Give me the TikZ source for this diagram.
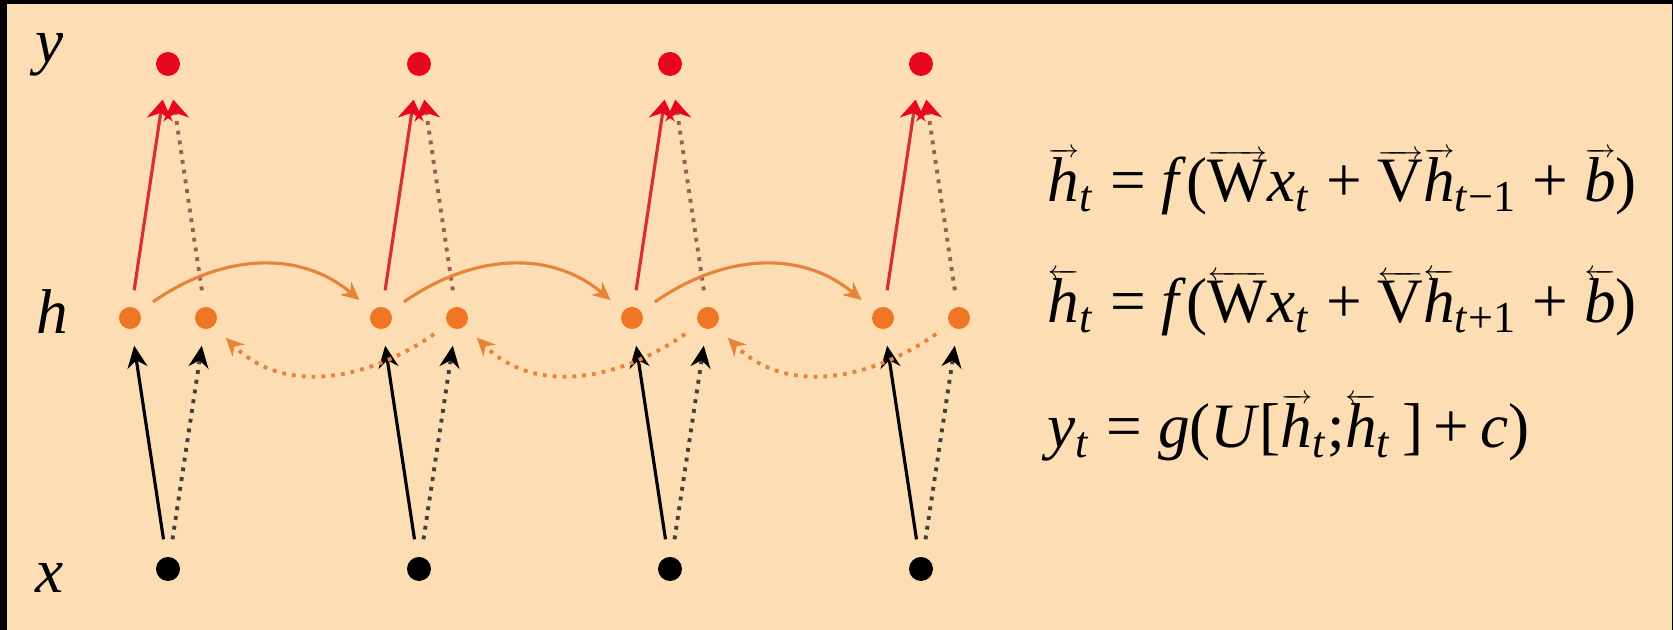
\documentclass[tikz,border=0pt]{standalone}
\usepackage{fontspec}
\setmainfont{Liberation Serif}
\usetikzlibrary{arrows.meta}

\definecolor{peach}{RGB}{253,221,179}
\definecolor{dotred}{RGB}{232,8,30}
\definecolor{linered}{RGB}{214,48,52}
\definecolor{dotbrown}{RGB}{150,96,84}
\definecolor{dotorange}{RGB}{240,118,38}
\definecolor{arcorange}{RGB}{230,132,58}

% small arrows over symbols
\newcommand{\fw}[1]{\begingroup\setbox0\hbox{#1}%
    \vbox{\offinterlineskip\hbox to\wd0{\fontsize{7}{7}\selectfont\rightarrowfill}\kern0.3pt\box0}\endgroup}
\newcommand{\bw}[1]{\begingroup\setbox0\hbox{#1}%
    \vbox{\offinterlineskip\hbox to\wd0{\fontsize{7}{7}\selectfont\leftarrowfill}\kern0.3pt\box0}\endgroup}
\newcommand{\tsub}[1]{\textsubscript{#1}}

\begin{document}
\begin{tikzpicture}[>=Stealth,
    ydot/.style={circle,fill=dotred,minimum size=0.24cm,inner sep=0pt,outer sep=0.24cm},
    hdot/.style={circle,fill=dotorange,minimum size=0.22cm,inner sep=0pt,outer sep=0.17cm},
    xdot/.style={circle,fill=black,minimum size=0.24cm,inner sep=0pt,outer sep=0.18cm},
    dotline/.style={line width=1.1pt,dash pattern=on 1.1pt off 1.7pt},
    inarrow/.style={line width=0.9pt,-{Stealth[black,length=0.22cm,width=0.2cm]}},
    outarrow/.style={line width=0.9pt,-{Stealth[dotred,length=0.2cm,width=0.26cm]}},
    lab/.style={font=\fontsize{18}{21}\selectfont,inner sep=0pt},
    eqn/.style={anchor=base west,font=\fontsize{18}{21}\selectfont,inner sep=0pt}]

    % === Background ===
    \useasboundingbox (0,0) rectangle (16.73,6.30);
    \fill[black] (0,0) rectangle (16.73,6.30);
    \fill[peach] (0.07,0) rectangle (16.72,6.26);

    % === Layer labels ===
    \node[lab] (ylab) at (0.50,5.75) {\textit{y}};
    \node[lab] (hlab) at (0.52,3.18) {\textit{h}};
    \node[lab] (xlab) at (0.50,0.52) {\textit{x}};

    % === Units over time ===
    \foreach \k in {0,...,3} {
        \pgfmathsetmacro{\xc}{1.68+2.51*\k}
        \node[ydot] (y\k) at (\xc,5.66) {};
        \node[hdot] (hf\k) at (\xc-0.38,3.12) {};
        \node[hdot] (hb\k) at (\xc+0.38,3.12) {};
        \node[xdot] (x\k) at (\xc,0.61) {};
    }

    % Input and output connections
    \foreach \k in {0,...,3} {
        \draw[inarrow,black] (x\k) -- (hf\k);
        \draw[inarrow,dotline,black!75] (x\k) -- (hb\k);
        \draw[outarrow,linered] (hf\k) -- (y\k);
        \draw[outarrow,dotline,dotbrown] (hb\k) -- (y\k);
    }

    % Forward and backward recurrences
    \foreach \k in {0,1,2} {
        \pgfmathtruncatemacro{\n}{\k+1}
        \draw[arcorange,line width=0.9pt,-{Stealth[length=0.18cm,width=0.17cm]}]
            (hf\k) to[out=35,in=140] (hf\n);
        \draw[arcorange,dotline,-{Stealth[length=0.18cm,width=0.17cm]}]
            (hb\n) to[out=215,in=-45] (hb\k);
    }

    % === Equations ===
    \node[eqn] (eqf) at (10.47,4.28)
        {\fw{\textit{h}}\tsub{\textit{t}} = \textit{f}(\fw{W}\textit{x}\tsub{\textit{t}} + \fw{V}\fw{\textit{h}}\tsub{\textit{t}−1} + \fw{\textit{b}})};
    \node[eqn] (eqb) at (10.47,3.07)
        {\bw{\textit{h}}\tsub{\textit{t}} = \textit{f}(\bw{W}\textit{x}\tsub{\textit{t}} + \bw{V}\bw{\textit{h}}\tsub{\textit{t}+1} + \bw{\textit{b}})};
    \node[eqn] (eqy) at (10.47,1.82)
        {\textit{y}\tsub{\textit{t}} = \textit{g}(\textit{U}[\fw{\textit{h}}\tsub{\textit{t}};\bw{\textit{h}}\tsub{\textit{t}}\,]\,+\,\textit{c})};
\end{tikzpicture}
\end{document}
